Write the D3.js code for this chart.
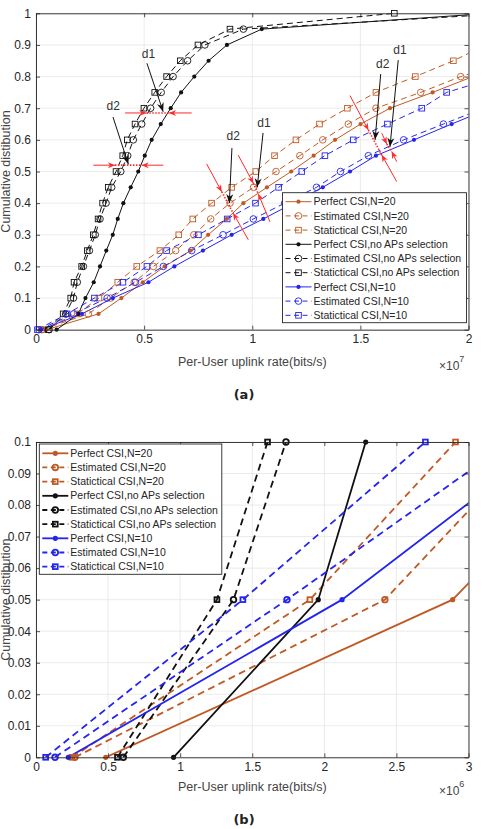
<!DOCTYPE html>
<html><head><meta charset="utf-8">
<script src="https://cdn.jsdelivr.net/npm/d3@7"></script>
<style>body{margin:0;background:#fff}svg{display:block}</style>
</head><body>
<svg id="c" width="491" height="829"></svg>
<script>
// CDF levels (y values shared by all series)
const cdfLevels = [0,0.05,0.1,0.15,0.2,0.25,0.3,0.35,0.4,0.45,0.5,0.55,0.6,0.65,0.7,0.75,0.8,0.85,0.9,0.95,1.0];
// Per-user uplink rate (x10^7 bits/s) at each CDF level
const perfectN20   = [0.0484,0.289,0.395,0.494,0.595,0.715,0.796,0.882,0.959,1.068,1.18,1.284,1.383,1.501,1.637,1.834,2.02];
const estimatedN20 = [0.027,0.242,0.345,0.454,0.543,0.646,0.73,0.808,0.897,1.006,1.11,1.22,1.326,1.444,1.572,1.779,1.964,2.2];
const statN20      = [0.025,0.19,0.291,0.378,0.466,0.573,0.66,0.725,0.812,0.905,1.016,1.103,1.202,1.311,1.44,1.572,1.754,1.93,2.08];
const perfectAll   = [0.0954,0.1958,0.2287,0.267,0.296,0.325,0.355,0.378,0.404,0.438,0.473,0.503,0.535,0.577,0.623,0.671,0.732,0.798,0.883,1.044,2.1];
const estimatedAll = [0.0606,0.137,0.1734,0.191,0.219,0.247,0.274,0.296,0.324,0.35,0.392,0.424,0.45,0.489,0.53,0.579,0.634,0.701,0.781,0.959,2.2];
const statAll      = [0.0565,0.1255,0.1606,0.176,0.211,0.237,0.265,0.287,0.308,0.334,0.37,0.401,0.422,0.458,0.499,0.549,0.604,0.667,0.749,0.897,1.657];
const perfectN10   = [0.0224,0.2123,0.3556,0.52,0.64,0.772,0.905,1.051,1.19,1.326,1.452,1.572,1.748,1.922,2.1];
const estimatedN10 = [0.0132,0.1741,0.329,0.46,0.589,0.72,0.865,1.005,1.15,1.297,1.408,1.537,1.70,1.884,2.07];
const statN10      = [0.0067,0.1435,0.2701,0.402,0.513,0.604,0.751,0.884,1.015,1.122,1.229,1.336,1.467,1.625,1.784,1.899,2.14];

const seriesNames = ["Perfect CSI,N=20","Estimated CSI,N=20","Statictical CSI,N=20",
  "Perfect CSI,no APs selection","Estimated CSI,no APs selection","Statictical CSI,no APs selection",
  "Perfect CSI,N=10","Estimated CSI,N=10","Statictical CSI,N=10"];
const seriesData = [perfectN20,estimatedN20,statN20,perfectAll,estimatedAll,statAll,perfectN10,estimatedN10,statN10];

// tick labels
const xTicksA = [0,0.5,1,1.5,2];
const xTickLabelsA = ["0","0.5","1","1.5","2"];
const yTicksA = [0,0.1,0.2,0.3,0.4,0.5,0.6,0.7,0.8,0.9,1];
const yTickLabelsA = ["0","0.1","0.2","0.3","0.4","0.5","0.6","0.7","0.8","0.9","1"];
const xTicksB = [0,0.05,0.1,0.15,0.2,0.25,0.3];
const xTickLabelsB = ["0","0.5","1","1.5","2","2.5","3"];
const yTicksB = [0,0.01,0.02,0.03,0.04,0.05,0.06,0.07,0.08,0.09,0.1];
const yTickLabelsB = ["0","0.01","0.02","0.03","0.04","0.05","0.06","0.07","0.08","0.09","0.1"];

// annotations for panel (a), in data units
const doubleArrows = [
  {o1:[0.412,0.685],t1:[0.51,0.685],t2:[0.615,0.685],o2:[0.72,0.685]},
  {o1:[0.265,0.52],t1:[0.365,0.52],t2:[0.489,0.52],o2:[0.589,0.52]},
  {o1:[0.789,0.524],t1:[0.859,0.436],t2:[0.912,0.368],o2:[0.982,0.284]},
  {o1:[0.935,0.552],t1:[1.005,0.463],t2:[1.028,0.429],o2:[1.082,0.341]},
  {o1:[1.452,0.74],t1:[1.537,0.631],t2:[1.599,0.552],o2:[1.668,0.468]},
  {o1:[1.599,0.621],t1:[1.622,0.587],t2:[1.645,0.563],o2:[1.668,0.531]}
];
const labelArrows = [
  {t:"d1",p:[0.52,0.86],s:[0.513,0.842],e:[0.588,0.689]},
  {t:"d2",p:[0.357,0.694],s:[0.356,0.672],e:[0.427,0.523]},
  {t:"d2",p:[0.912,0.6],s:[0.906,0.574],e:[0.894,0.40]},
  {t:"d1",p:[1.054,0.642],s:[1.05,0.622],e:[1.023,0.45]},
  {t:"d2",p:[1.603,0.826],s:[1.594,0.808],e:[1.568,0.60]},
  {t:"d1",p:[1.683,0.871],s:[1.675,0.852],e:[1.637,0.578]}
];

const BROWN="#c05a24", BLUE="#2424f0", BLACK="#111111";
const styles = [
  {c:BROWN,m:"dot",d:false},{c:BROWN,m:"circle",d:true},{c:BROWN,m:"square",d:true},
  {c:BLACK,m:"dot",d:false},{c:BLACK,m:"circle",d:true},{c:BLACK,m:"square",d:true},
  {c:BLUE,m:"dot",d:false},{c:BLUE,m:"circle",d:true},{c:BLUE,m:"square",d:true}
];
const FONT = "'Liberation Sans', Arial, Helvetica, sans-serif";
const svg = d3.select("#c");

function drawMarker(g, type, cx, cy, color, sz){
  if(type==="dot"){
    g.append("circle").attr("cx",cx).attr("cy",cy).attr("r",sz.dot).attr("fill",color);
  } else if(type==="circle"){
    g.append("circle").attr("cx",cx).attr("cy",cy).attr("r",sz.circ).attr("fill","none").attr("stroke",color).attr("stroke-width",sz.msw);
  } else {
    g.append("rect").attr("x",cx-sz.sq/2).attr("y",cy-sz.sq/2).attr("width",sz.sq).attr("height",sz.sq).attr("fill","none").attr("stroke",color).attr("stroke-width",sz.msw);
  }
}

function panel(cfg){
  const {x,y,id} = cfg;
  const [x0,x1]=x.range(), [y0,y1]=y.range();
  const g = svg.append("g");
  g.append("g").selectAll("line").data(cfg.xTicks).join("line")
    .attr("x1",d=>x(d)).attr("x2",d=>x(d)).attr("y1",y0).attr("y2",y1).attr("stroke","#e2e2e2").attr("stroke-width",0.7);
  g.append("g").selectAll("line").data(cfg.yTicks).join("line")
    .attr("y1",d=>y(d)).attr("y2",d=>y(d)).attr("x1",x0).attr("x2",x1).attr("stroke","#e2e2e2").attr("stroke-width",0.7);
  svg.append("clipPath").attr("id",id).append("rect").attr("x",x0).attr("y",y1).attr("width",x1-x0).attr("height",y0-y1);
  const plot = g.append("g");
  const lines = plot.append("g").attr("clip-path",`url(#${id})`);
  const marks = plot.append("g");
  const line = d3.line().x(d=>x(d[0])).y(d=>y(d[1]));
  seriesData.forEach((arr,i)=>{
    const st = styles[i];
    const pts = arr.map((v,j)=>[v,cdfLevels[j]]);
    lines.append("path").attr("d",line(pts)).attr("fill","none").attr("stroke",st.c)
      .attr("stroke-width",cfg.lw).attr("stroke-dasharray",st.d?cfg.dash:null);
    pts.forEach(p=>{
      if(p[0]>=x.domain()[0]-1e-9 && p[0]<=x.domain()[1]+1e-9 && p[1]<=y.domain()[1]+1e-9)
        drawMarker(marks, st.m, x(p[0]), y(p[1]), st.c, cfg.sz);
    });
  });
  const ax = g.append("g").attr("font-family",FONT);
  const mk = (axis) => axis.tickSizeInner(-4).tickSizeOuter(0).tickPadding(5);
  const xa = d3.axisBottom(x).tickValues(cfg.xTicks).tickFormat((d,i)=>cfg.xLabels[i]);
  ax.append("g").attr("transform",`translate(0,${y0})`).call(mk(xa));
  const xt = d3.axisTop(x).tickValues(cfg.xTicks).tickFormat("");
  ax.append("g").attr("transform",`translate(0,${y1})`).call(mk(xt));
  const ya = d3.axisLeft(y).tickValues(cfg.yTicks).tickFormat((d,i)=>cfg.yLabels[i]);
  ax.append("g").attr("transform",`translate(${x0},0)`).call(mk(ya));
  const yr = d3.axisRight(y).tickValues(cfg.yTicks).tickFormat("");
  ax.append("g").attr("transform",`translate(${x1},0)`).call(mk(yr));
  ax.selectAll("path.domain").attr("stroke","#262626").attr("stroke-width",0.9);
  ax.selectAll(".tick line").attr("stroke","#262626").attr("stroke-width",0.8);
  ax.selectAll(".tick text").attr("fill","#262626").attr("font-size",12).attr("font-family",FONT);
  g.append("text").attr("x",(x0+x1)/2).attr("y",cfg.xlabY).attr("text-anchor","middle")
    .attr("font-family",FONT).attr("font-size",12.5).attr("fill","#444").text("Per-User uplink rate(bits/s)");
  g.append("text").attr("transform",`translate(${cfg.ylabX},${(y0+y1)/2}) rotate(-90)`).attr("text-anchor","middle")
    .attr("font-family",FONT).attr("font-size",12.5).attr("fill","#444").text("Cumulative distibution");
  const ex = g.append("text").attr("x",439).attr("y",cfg.xlabY+4).attr("font-family",FONT).attr("font-size",12).attr("fill","#444");
  ex.append("tspan").text("×10");
  ex.append("tspan").attr("dy",-8).attr("font-size",9).text(cfg.exp);
  g.append("text").attr("x",244).attr("y",cfg.titleY).attr("text-anchor","middle").attr("font-family","'DejaVu Sans', sans-serif")
    .attr("font-weight","bold").attr("font-size",13).attr("fill","#222").text(cfg.title);
  const L = cfg.leg;
  const lg = g.append("g").attr("font-family",FONT);
  lg.append("rect").attr("x",L.x).attr("y",L.y).attr("width",L.w).attr("height",L.h).attr("fill","#fff").attr("stroke","#262626").attr("stroke-width",0.9);
  seriesNames.forEach((nm,i)=>{
    const st=styles[i], ry=L.r0+i*L.dy;
    lg.append("line").attr("x1",L.x+3).attr("x2",L.x+29).attr("y1",ry).attr("y2",ry).attr("stroke",st.c)
      .attr("stroke-width",cfg.lw).attr("stroke-dasharray",st.d?cfg.legDash:null);
    drawMarker(lg, st.m, L.x+16, ry, st.c, cfg.sz);
    lg.append("text").attr("x",L.x+31).attr("y",ry).attr("dy","0.35em").attr("font-size",10.5).attr("fill","#262626").text(nm);
  });
  return {g, x, y};
}

const A = panel({id:"ca", x:d3.scaleLinear([0,2],[36,468.5]), y:d3.scaleLinear([0,1],[329.7,13.3]),
  xTicks:xTicksA, xLabels:xTickLabelsA, yTicks:yTicksA, yLabels:yTickLabelsA,
  lw:1, dash:"6,4", legDash:"5,3.5", sz:{dot:2.1,circ:3.3,sq:5.6,msw:0.9},
  xlabY:366, ylabX:10, exp:"7", title:"(a)", titleY:399,
  leg:{x:282.5,y:192.7,w:184,h:130,r0:201.7,dy:14.2}});

const B = panel({id:"cb", x:d3.scaleLinear([0,0.3],[36,468.5]), y:d3.scaleLinear([0,0.1],[757.3,442]),
  xTicks:xTicksB, xLabels:xTickLabelsB, yTicks:yTicksB, yLabels:yTickLabelsB,
  lw:1.8, dash:"7,4.5", legDash:"5,3.5", sz:{dot:2.6,circ:2.8,sq:4.8,msw:1.8},
  xlabY:791, ylabX:10, exp:"6", title:"(b)", titleY:824,
  leg:{x:39.3,y:444,w:182.5,h:130.3,r0:453.3,dy:14.17}});

(function(){
  const {g,x,y} = A;
  const ag = g.append("g");
  function head(p, from, color, L, Wd){
    const tx=x(p[0]), ty=y(p[1]), fx=x(from[0]), fy=y(from[1]);
    const ang=Math.atan2(ty-fy, tx-fx);
    const c=Math.cos(ang), s=Math.sin(ang);
    const bx=tx-L*c, by=ty-L*s, nx=tx-L*0.7*c, ny=ty-L*0.7*s;
    ag.append("path").attr("d",`M${tx},${ty}L${bx-Wd/2*s},${by+Wd/2*c}L${nx},${ny}L${bx+Wd/2*s},${by-Wd/2*c}Z`).attr("fill",color);
  }
  const RED="#ff2a2a";
  doubleArrows.forEach(a=>{
    [[a.o1,a.t1],[a.o2,a.t2]].forEach(([o,t])=>{
      ag.append("line").attr("x1",x(o[0])).attr("y1",y(o[1])).attr("x2",x(t[0])).attr("y2",y(t[1])).attr("stroke",RED).attr("stroke-width",1);
      head(t,o,RED,7,6);
    });
    ag.append("line").attr("x1",x(a.t1[0])).attr("y1",y(a.t1[1])).attr("x2",x(a.t2[0])).attr("y2",y(a.t2[1]))
      .attr("stroke",RED).attr("stroke-width",1.6).attr("stroke-dasharray","1.5,1.5");
  });
  labelArrows.forEach(a=>{
    ag.append("line").attr("x1",x(a.s[0])).attr("y1",y(a.s[1])).attr("x2",x(a.e[0])).attr("y2",y(a.e[1])).attr("stroke","#111").attr("stroke-width",1);
    head(a.e,a.s,"#111",9,7);
    ag.append("text").attr("x",x(a.p[0])).attr("y",y(a.p[1])).attr("text-anchor","middle").attr("font-family",FONT)
      .attr("font-size",12).attr("fill","#333").text(a.t);
  });
})();
</script>
</body></html>
